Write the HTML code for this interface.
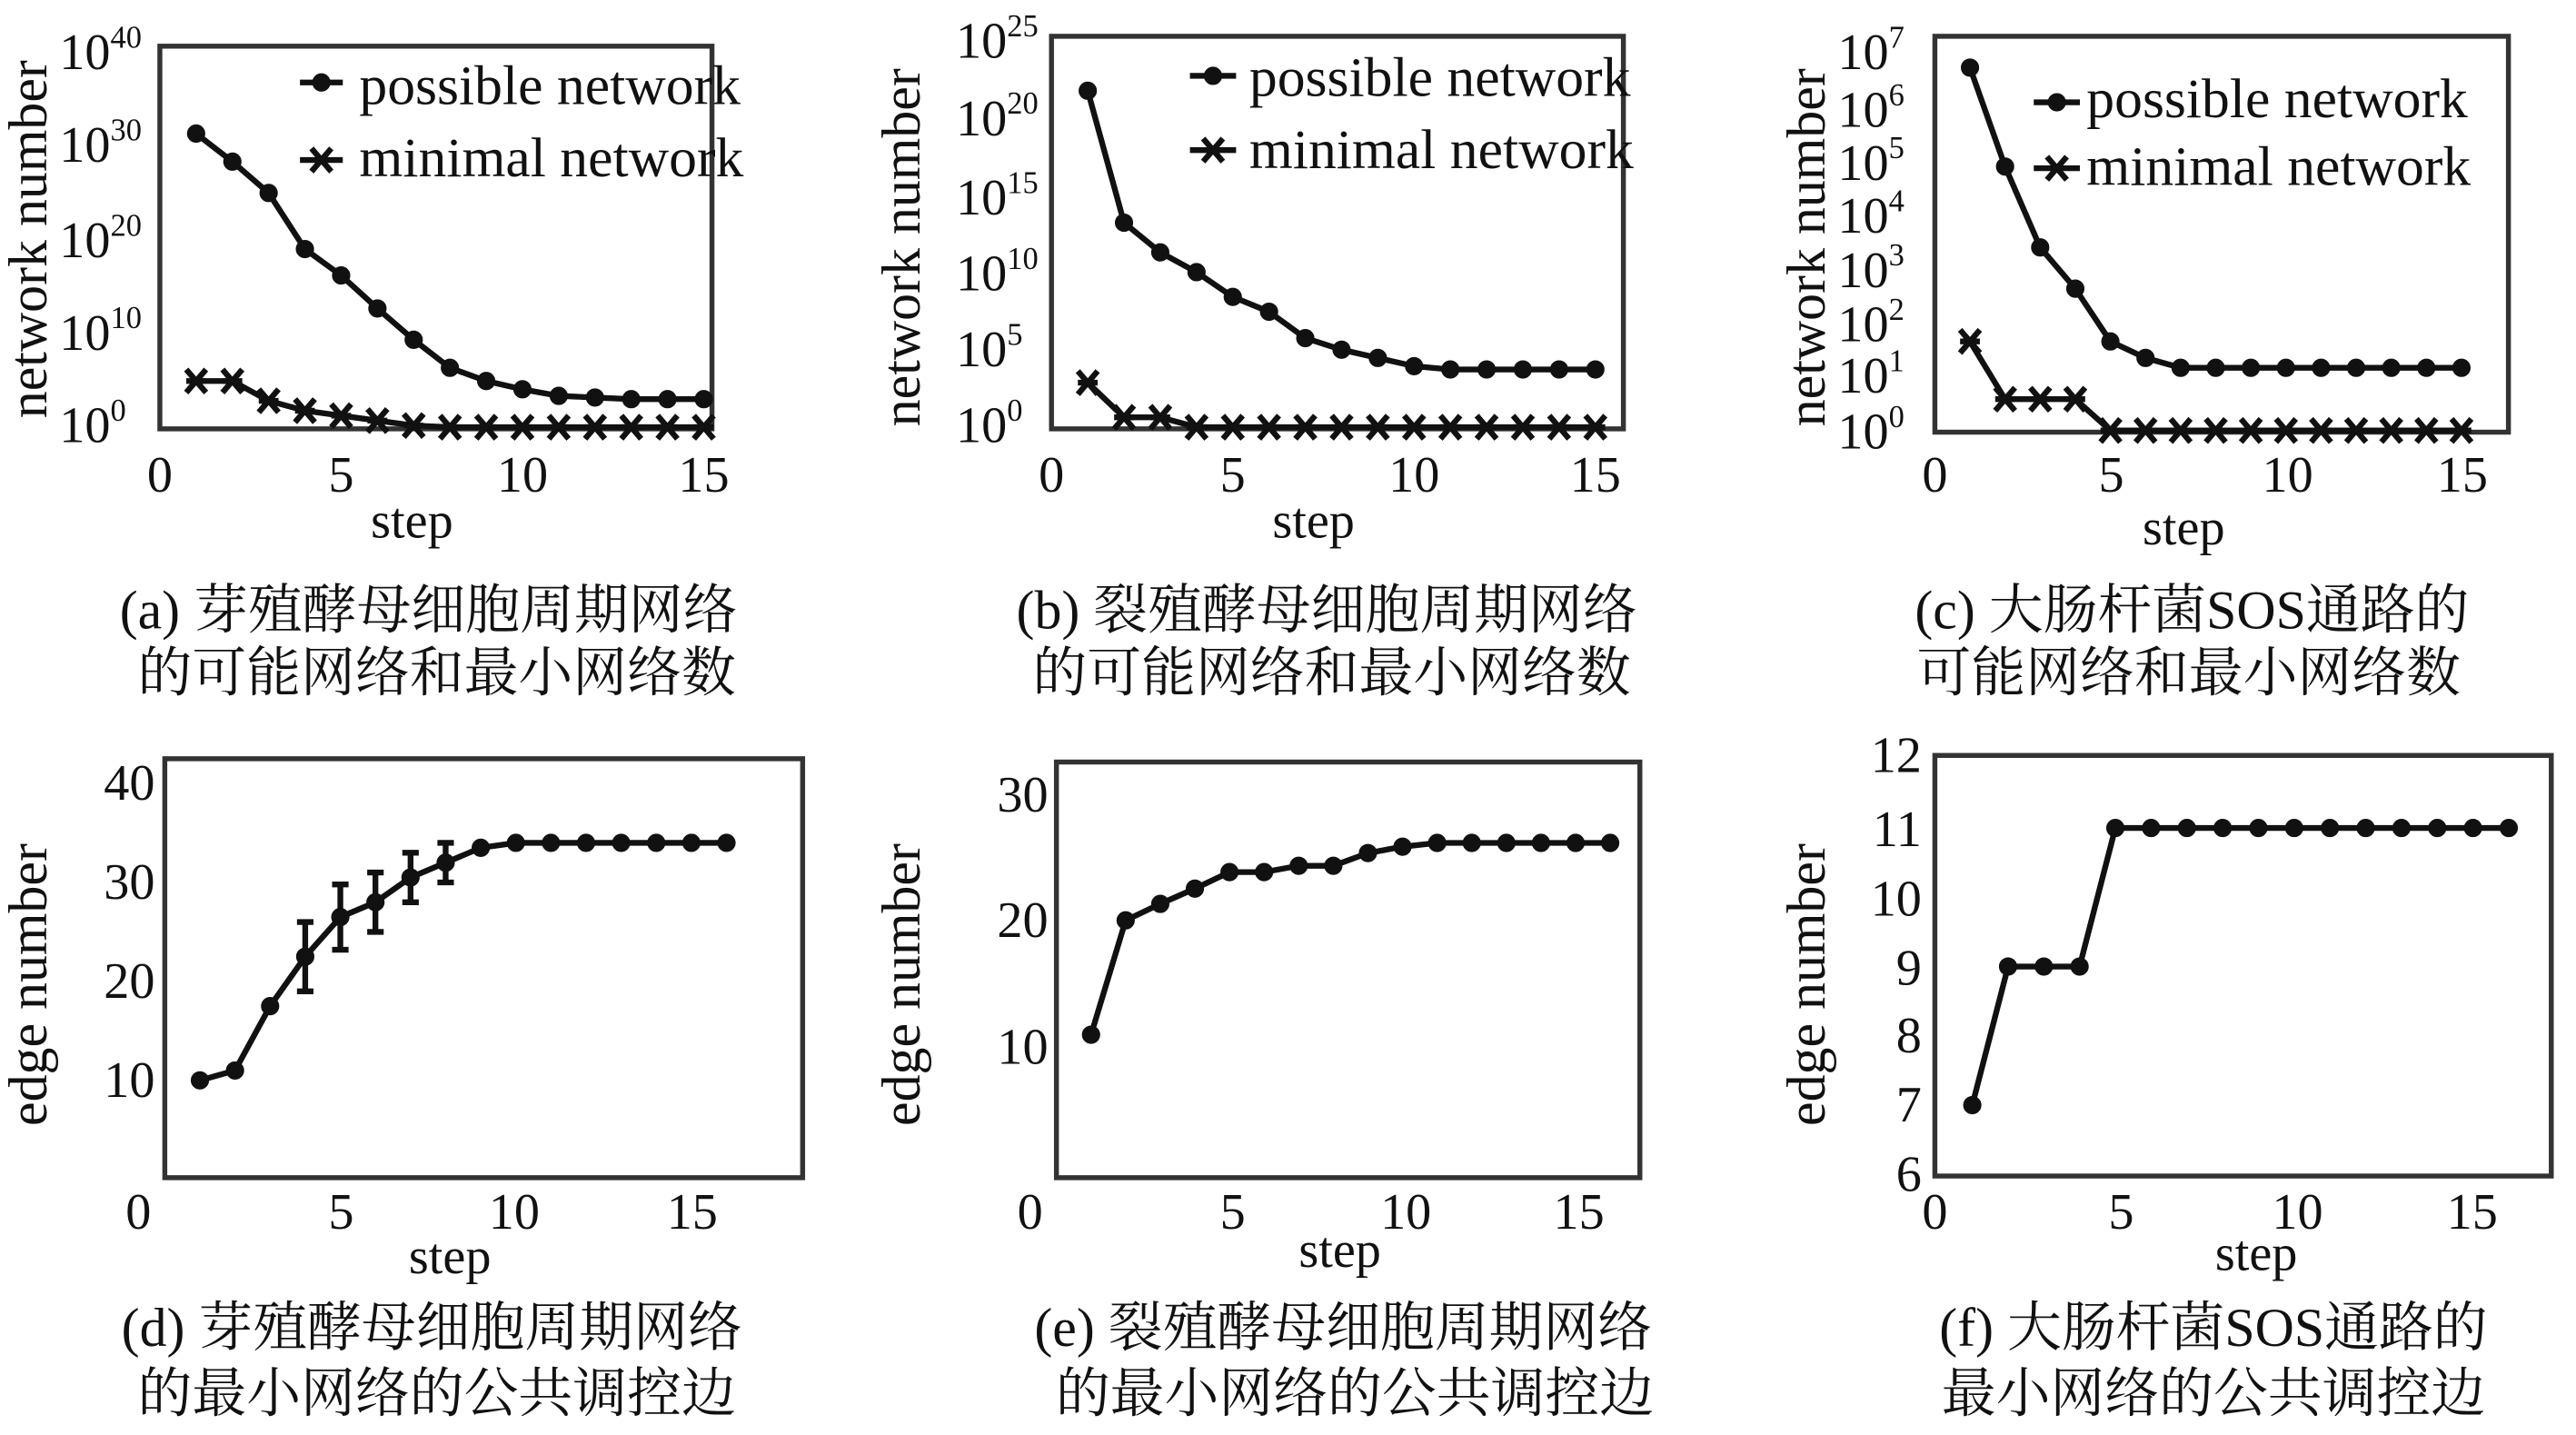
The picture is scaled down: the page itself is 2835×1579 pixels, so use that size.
<!DOCTYPE html>
<html><head><meta charset="utf-8"><style>
html,body{margin:0;padding:0;background:#fff;}
svg{display:block;}
text{font-family:"Liberation Serif","Noto Serif CJK SC",serif;fill:#111;}
.t{font-size:31px;}
.a{font-size:33px;}
.c{font-size:33px;}
.l{font-size:34px;}
</style></head><body>
<svg id="s" width="2835" height="1579" viewBox="0 0 1563 870" preserveAspectRatio="none" xmlns="http://www.w3.org/2000/svg">
<g fill="none" stroke="#333" stroke-width="3">
<rect x="97" y="28" width="335" height="232"/>
<rect x="638" y="22" width="347" height="238"/>
<rect x="1174" y="22" width="348" height="240"/>
<rect x="100" y="460" width="387" height="254"/>
<rect x="641" y="462" width="354" height="252"/>
<rect x="1174" y="458" width="374" height="255"/>
</g>
<text class="t" x="36" y="268">10<tspan dy="-13" font-size="19">0</tspan></text>
<text class="t" x="36" y="212">10<tspan dy="-13" font-size="19">10</tspan></text>
<text class="t" x="36" y="156">10<tspan dy="-13" font-size="19">20</tspan></text>
<text class="t" x="36" y="98">10<tspan dy="-13" font-size="19">30</tspan></text>
<text class="t" x="36" y="42">10<tspan dy="-13" font-size="19">40</tspan></text>
<text class="t" x="97" y="298" text-anchor="middle">0</text>
<text class="t" x="207" y="298" text-anchor="middle">5</text>
<text class="t" x="317" y="298" text-anchor="middle">10</text>
<text class="t" x="427" y="298" text-anchor="middle">15</text>
<text class="t" x="250" y="326" text-anchor="middle">step</text>
<text class="a" transform="translate(28,145) rotate(-90)" text-anchor="middle">network number</text>
<text class="l" x="218" y="63">possible network</text>
<text class="l" x="218" y="107">minimal network</text>
<text class="t" x="580" y="268">10<tspan dy="-13" font-size="19">0</tspan></text>
<text class="t" x="580" y="222">10<tspan dy="-13" font-size="19">5</tspan></text>
<text class="t" x="580" y="176">10<tspan dy="-13" font-size="19">10</tspan></text>
<text class="t" x="580" y="130">10<tspan dy="-13" font-size="19">15</tspan></text>
<text class="t" x="580" y="82">10<tspan dy="-13" font-size="19">20</tspan></text>
<text class="t" x="580" y="35">10<tspan dy="-13" font-size="19">25</tspan></text>
<text class="t" x="638" y="298" text-anchor="middle">0</text>
<text class="t" x="748" y="298" text-anchor="middle">5</text>
<text class="t" x="858" y="298" text-anchor="middle">10</text>
<text class="t" x="968" y="298" text-anchor="middle">15</text>
<text class="t" x="797" y="326" text-anchor="middle">step</text>
<text class="a" transform="translate(558,150) rotate(-90)" text-anchor="middle">network number</text>
<text class="l" x="758" y="58">possible network</text>
<text class="l" x="758" y="102">minimal network</text>
<text class="t" x="1115" y="272">10<tspan dy="-13" font-size="19">0</tspan></text>
<text class="t" x="1115" y="238">10<tspan dy="-13" font-size="19">1</tspan></text>
<text class="t" x="1115" y="207">10<tspan dy="-13" font-size="19">2</tspan></text>
<text class="t" x="1115" y="174">10<tspan dy="-13" font-size="19">3</tspan></text>
<text class="t" x="1115" y="141">10<tspan dy="-13" font-size="19">4</tspan></text>
<text class="t" x="1115" y="109">10<tspan dy="-13" font-size="19">5</tspan></text>
<text class="t" x="1115" y="77">10<tspan dy="-13" font-size="19">6</tspan></text>
<text class="t" x="1115" y="42">10<tspan dy="-13" font-size="19">7</tspan></text>
<text class="t" x="1174" y="298" text-anchor="middle">0</text>
<text class="t" x="1281" y="298" text-anchor="middle">5</text>
<text class="t" x="1388" y="298" text-anchor="middle">10</text>
<text class="t" x="1494" y="298" text-anchor="middle">15</text>
<text class="t" x="1325" y="330" text-anchor="middle">step</text>
<text class="a" transform="translate(1107,150) rotate(-90)" text-anchor="middle">network number</text>
<text class="l" x="1266" y="71">possible network</text>
<text class="l" x="1266" y="112">minimal network</text>
<text class="t" x="94" y="485" text-anchor="end">40</text>
<text class="t" x="94" y="545" text-anchor="end">30</text>
<text class="t" x="94" y="605" text-anchor="end">20</text>
<text class="t" x="94" y="665" text-anchor="end">10</text>
<text class="t" x="84" y="745" text-anchor="middle">0</text>
<text class="t" x="207" y="745" text-anchor="middle">5</text>
<text class="t" x="312" y="745" text-anchor="middle">10</text>
<text class="t" x="420" y="745" text-anchor="middle">15</text>
<text class="t" x="273" y="772" text-anchor="middle">step</text>
<text class="a" transform="translate(28,597) rotate(-90)" text-anchor="middle">edge number</text>
<text class="t" x="636" y="492" text-anchor="end">30</text>
<text class="t" x="636" y="568" text-anchor="end">20</text>
<text class="t" x="636" y="645" text-anchor="end">10</text>
<text class="t" x="625" y="745" text-anchor="middle">0</text>
<text class="t" x="748" y="745" text-anchor="middle">5</text>
<text class="t" x="853" y="745" text-anchor="middle">10</text>
<text class="t" x="958" y="745" text-anchor="middle">15</text>
<text class="t" x="813" y="768" text-anchor="middle">step</text>
<text class="a" transform="translate(558,597) rotate(-90)" text-anchor="middle">edge number</text>
<text class="t" x="1166" y="468" text-anchor="end">12</text>
<text class="t" x="1166" y="513" text-anchor="end">11</text>
<text class="t" x="1166" y="555" text-anchor="end">10</text>
<text class="t" x="1166" y="597" text-anchor="end">9</text>
<text class="t" x="1166" y="638" text-anchor="end">8</text>
<text class="t" x="1166" y="680" text-anchor="end">7</text>
<text class="t" x="1166" y="722" text-anchor="end">6</text>
<text class="t" x="1174" y="745" text-anchor="middle">0</text>
<text class="t" x="1287" y="745" text-anchor="middle">5</text>
<text class="t" x="1394" y="745" text-anchor="middle">10</text>
<text class="t" x="1500" y="745" text-anchor="middle">15</text>
<text class="t" x="1369" y="770" text-anchor="middle">step</text>
<text class="a" transform="translate(1107,597) rotate(-90)" text-anchor="middle">edge number</text>
<text class="c" x="260" y="381" text-anchor="middle">(a) 芽殖酵母细胞周期网络</text>
<text class="c" x="265" y="419" text-anchor="middle">的可能网络和最小网络数</text>
<text class="c" x="805" y="381" text-anchor="middle">(b) 裂殖酵母细胞周期网络</text>
<text class="c" x="808" y="419" text-anchor="middle">的可能网络和最小网络数</text>
<text class="c" x="1330" y="381" text-anchor="middle">(c) 大肠杆菌SOS通路的</text>
<text class="c" x="1328" y="419" text-anchor="middle">可能网络和最小网络数</text>
<text class="c" x="262" y="816" text-anchor="middle">(d) 芽殖酵母细胞周期网络</text>
<text class="c" x="265" y="856" text-anchor="middle">的最小网络的公共调控边</text>
<text class="c" x="815" y="816" text-anchor="middle">(e) 裂殖酵母细胞周期网络</text>
<text class="c" x="822" y="856" text-anchor="middle">的最小网络的公共调控边</text>
<text class="c" x="1343" y="816" text-anchor="middle">(f) 大肠杆菌SOS通路的</text>
<text class="c" x="1343" y="856" text-anchor="middle">最小网络的公共调控边</text>
<g id="d" stroke="#111" stroke-width="3.5" fill="#111"></g>
</svg>
<script>
var g=document.getElementById('d'),NS='http://www.w3.org/2000/svg';
function el(t,a){var e=document.createElementNS(NS,t);for(var k in a)e.setAttribute(k,a[k]);g.appendChild(e);}
function series(x0,dx,ys,mk){var p=ys.map(function(y,i){return (x0+dx*(i+1))+','+y}).join(' ');
el('polyline',{points:p,fill:'none'});
ys.forEach(function(y,i){var x=x0+dx*(i+1);
if(mk=='o')el('circle',{cx:x,cy:y,r:3.8});
else{el('line',{x1:x-6,y1:y-7,x2:x+6,y2:y+7});el('line',{x1:x+6,y1:y-7,x2:x-6,y2:y+7});el('line',{x1:x-6,y1:y,x2:x+6,y2:y});}});}
series(97,22,[81,98,117,151,167,187,206,223,231,236,240,241,242,242,242],'o');
series(97,22,[231,231,243,249,252,255,258,259,259,259,259,259,259,259,259],'x');
el('line',{x1:182,y1:50,x2:208,y2:50});el('circle',{cx:195,cy:50,r:3.8});
el('line',{x1:182,y1:97,x2:208,y2:97});el('line',{x1:189,y1:90,x2:201,y2:104});el('line',{x1:201,y1:90,x2:189,y2:104});
series(638,22,[55,135,153,165,180,189,205,212,217,222,224,224,224,224,224],'o');
series(638,22,[232,253,253,259,259,259,259,259,259,259,259,259,259,259,259],'x');
el('line',{x1:722,y1:46,x2:750,y2:46});el('circle',{cx:736,cy:46,r:3.8});
el('line',{x1:722,y1:91,x2:750,y2:91});el('line',{x1:730,y1:84,x2:742,y2:98});el('line',{x1:742,y1:84,x2:730,y2:98});
series(1174,21.3,[41,101,150,175,207,217,223,223,223,223,223,223,223,223,223],'o');
series(1174,21.3,[207,242,242,242,261,261,261,261,261,261,261,261,261,261,261],'x');
el('line',{x1:1234,y1:62,x2:1262,y2:62});el('circle',{cx:1248,cy:62,r:3.8});
el('line',{x1:1234,y1:102,x2:1262,y2:102});el('line',{x1:1242,y1:95,x2:1254,y2:109});el('line',{x1:1254,y1:95,x2:1242,y2:109});
function ey(v){return 715-v*6;}
series(100,21.3,[10,11,17.5,22.5,26.5,28,30.5,32,33.5,34,34,34,34,34,34,34].map(ey),'o');
[[4,3.5],[5,3.3],[6,3],[7,2.5],[8,2]].forEach(function(e){var x=100+21.3*e[0],v=[22.5,26.5,28,30.5,32][e[0]-4];
el('line',{x1:x,y1:ey(v-e[1]),x2:x,y2:ey(v+e[1])});el('line',{x1:x-5,y1:ey(v-e[1]),x2:x+5,y2:ey(v-e[1])});el('line',{x1:x-5,y1:ey(v+e[1]),x2:x+5,y2:ey(v+e[1])});});
function fy(v){return 712-v*7.7;}
series(641,21,[11,20,21.3,22.5,23.8,23.8,24.3,24.3,25.3,25.8,26.1,26.1,26.1,26.1,26.1,26.1].map(fy),'o');
function gy(v){return 712-(v-6)*42;}
series(1175,21.7,[7,9,9,9,11,11,11,11,11,11,11,11,11,11,11,11].map(gy),'o');
</script>
</body></html>
